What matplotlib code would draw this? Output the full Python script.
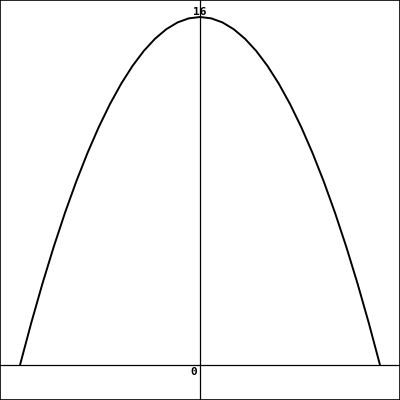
import matplotlib
matplotlib.use("Agg")
import matplotlib.pyplot as plt

# points (x, y)
x_vals = [-4.0, -3.75, -3.5, -3.25, -3.0, -2.75, -2.5, -2.25, -2.0, -1.75, -1.5, -1.25,
          -1.0, -0.75, -0.5, -0.25, 0.0, 0.25, 0.5, 0.75, 1.0, 1.25, 1.5, 1.75,
          2.0, 2.25, 2.5, 2.75, 3.0, 3.25, 3.5, 3.75, 4.0]
y_vals = [0.0, 1.9375, 3.75, 5.4375, 7.0, 8.4375, 9.75, 10.9375, 12.0, 12.9375, 13.75, 14.4375,
          15.0, 15.4375, 15.75, 15.9375, 16.0, 15.9375, 15.75, 15.4375, 15.0, 14.4375, 13.75, 12.9375,
          12.0, 10.9375, 9.75, 8.4375, 7.0, 5.4375, 3.75, 1.9375, 0.0]
tick_labels = ["16", "0"]

fig = plt.figure(figsize=(4, 4), dpi=100)
ax = fig.add_axes([0, 0, 1, 1])
ax.set_xlim(-200 / 45, 200 / 45)
ax.set_ylim(-35 / 21.75, 365 / 21.75)
ax.set_xticks([])
ax.set_yticks([])
for s in ax.spines.values():
    s.set_linewidth(1.2)
    s.set_color("black")

ax.axhline(0, color="black", lw=0.9)
ax.axvline(0, color="black", lw=0.9)
ax.plot(x_vals, y_vals, color="black", lw=1.4, solid_capstyle="butt")

ax.text(0, 16.0, tick_labels[0], ha="center", va="bottom", fontsize=8,
        family="DejaVu Sans Mono", fontweight="bold")
ax.text(-0.07, -0.1, tick_labels[1], ha="right", va="top", fontsize=8,
        family="DejaVu Sans Mono", fontweight="bold")

fig.savefig("out.png", dpi=100)
